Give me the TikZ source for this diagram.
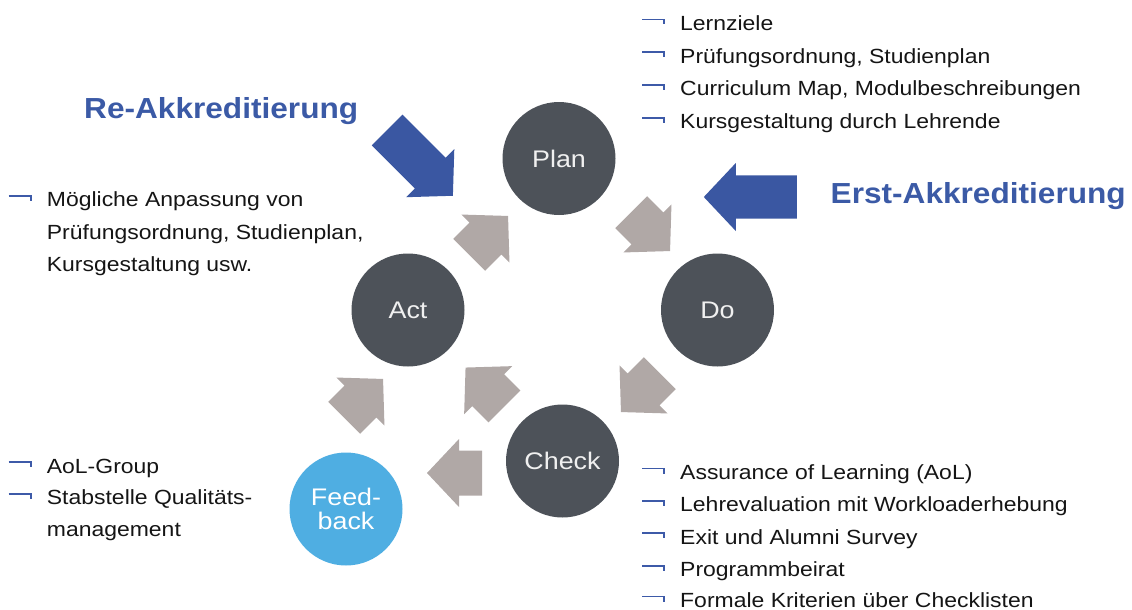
\documentclass[tikz,border=0pt]{standalone}
\usepackage{fontspec}
\setmainfont{Liberation Sans}
\newfontfamily\bodyfont[FakeStretch=1.12]{Liberation Sans}
\newfontfamily\headfont[FakeStretch=1.09]{Liberation Sans}
\usetikzlibrary{calc}
\definecolor{darkcircle}{HTML}{4D5259}
\definecolor{circletext}{HTML}{F0F0F0}
\definecolor{arrowgray}{HTML}{B0A8A6}
\definecolor{arrowblue}{HTML}{3A57A2}
\definecolor{headblue}{HTML}{3B5AA6}
\definecolor{feedblue}{HTML}{4FAEE2}
\definecolor{bulletblue}{HTML}{3D5AA8}
\definecolor{textdark}{HTML}{151515}
\begin{document}
\begin{tikzpicture}[x=1pt,y=-1pt,
  phase/.style={circle, fill=darkcircle, minimum size=113pt, inner sep=0pt,
    text=circletext, align=center, font=\bodyfont\fontsize{24}{24}\selectfont},
  feedphase/.style={phase, fill=feedblue, text=white},
  item/.style={anchor=base west, inner sep=0pt, text=textdark,
    font=\bodyfont\fontsize{20.5}{24}\selectfont},
  headline/.style={anchor=base west, inner sep=0pt, text=headblue,
    font=\headfont\bfseries\fontsize{29}{32}\selectfont},
  bul/.pic={\draw[bulletblue, line width=1.8pt] (0,0) -- (22,0) -- (22,5);},
  grayarrow/.pic={\fill[arrowgray] (-27.5,-22.5) -- (-4.5,-22.5) -- (-4.5,-34) -- (27.5,0)
      -- (-4.5,34) -- (-4.5,22.5) -- (-27.5,22.5) -- cycle;},
  bluearrow/.pic={\fill[arrowblue] (-46.5,-21.7) -- (14.5,-21.7) -- (14.5,-34) -- (46.5,0)
      -- (14.5,34) -- (14.5,21.7) -- (-46.5,21.7) -- cycle;}
]
\useasboundingbox (0,0) rectangle (1132,610);

% phases
\node[phase] (plan) at (559,158.5) {Plan};
\node[phase] (do) at (717.5,310) {Do};
\node[phase] (act) at (408,310) {Act};
\node[phase] (check) at (562.5,461) {Check};
\node[feedphase] (feedback) at (346,509) {Feed-\\back};

% cycle arrows
\coordinate (a1) at (454.5,473);
\coordinate (a2) at (363.6,398.4);
\coordinate (a3) at (485,387);
\coordinate (a4) at (488.6,235.4);
\coordinate (a5) at (650.6,231.6);
\coordinate (a6) at (640.4,392.6);
\pic[rotate=180] at (a1) {grayarrow};
\pic[rotate=45] at (a2) {grayarrow};
\pic[rotate=135] at (a3) {grayarrow};
\pic[rotate=45] at (a4) {grayarrow};
\pic[rotate=-45] at (a5) {grayarrow};
\pic[rotate=-135] at (a6) {grayarrow};

% accreditation arrows
\coordinate (b1) at (420,162.9);
\coordinate (b2) at (750.3,197);
\pic[rotate=-45] at (b1) {bluearrow};
\pic[rotate=180] at (b2) {bluearrow};

\node[headline] (re) at (84,118.3) {Re-Akkreditierung};
\node[headline] (erst) at (830.5,203.3) {Erst-Akkreditierung};

% Plan list
\node[item] (p1) at (680,30.5) {Lernziele};
\node[item] (p2) at (680,63.2) {Prüfungsordnung, Studienplan};
\node[item] (p3) at (680,95.9) {Curriculum Map, Modulbeschreibungen};
\node[item] (p4) at (680,128.6) {Kursgestaltung durch Lehrende};
\foreach \n in {p1,p2,p3,p4} \pic at ($(\n.base west)+(-38,-11)$) {bul};

% Check list
\node[item] (c1) at (680,479.5) {Assurance of Learning (AoL)};
\node[item] (c2) at (680,511.9) {Lehrevaluation mit Workloaderhebung};
\node[item] (c3) at (680,544.3) {Exit und Alumni Survey};
\node[item] (c4) at (680,576.7) {Programmbeirat};
\node[item] (c5) at (680,607.5) {Formale Kriterien über Checklisten};
\foreach \n in {c1,c2,c3,c4,c5} \pic at ($(\n.base west)+(-38,-11)$) {bul};

% Act list
\node[item] (k1) at (46.7,206.8) {Mögliche Anpassung von};
\node[item] (k2) at (46.7,239.1) {Prüfungsordnung, Studienplan,};
\node[item] (k3) at (46.7,271.3) {Kursgestaltung usw.};
\pic at ($(k1.base west)+(-38,-11)$) {bul};

% Feedback list
\node[item] (f1) at (46.7,473) {AoL-Group};
\node[item] (f2) at (46.7,504.7) {Stabstelle Qualitäts-};
\node[item] (f3) at (46.7,536.4) {management};
\pic at ($(f1.base west)+(-38,-11)$) {bul};
\pic at ($(f2.base west)+(-38,-11)$) {bul};
\end{tikzpicture}
\end{document}
